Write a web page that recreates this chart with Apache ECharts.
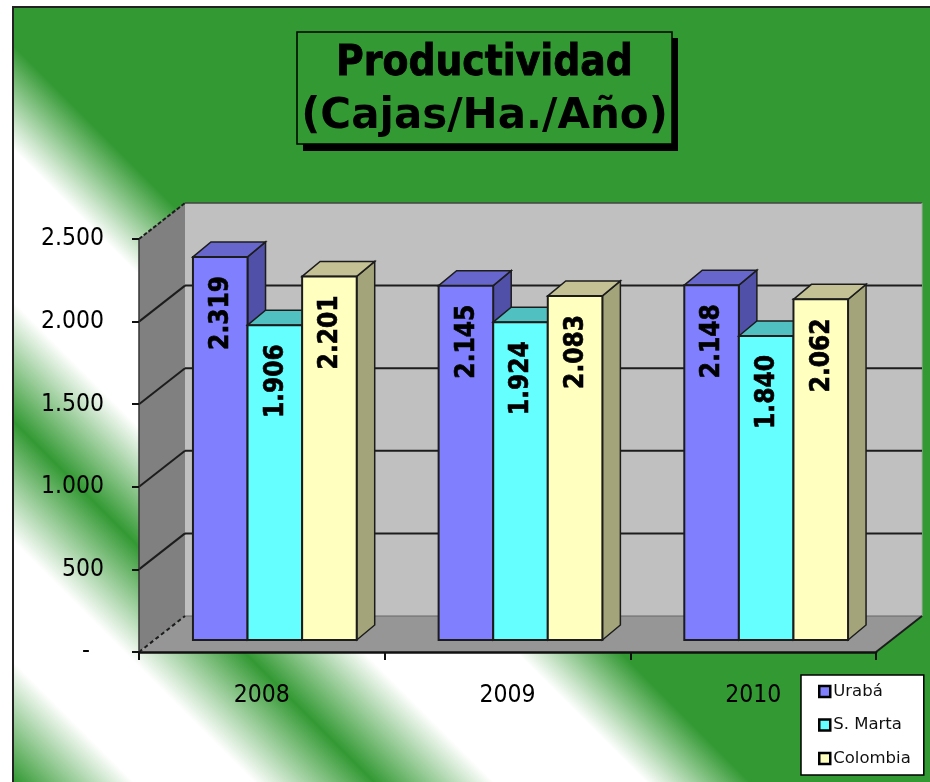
<!DOCTYPE html>
<html><head><meta charset="utf-8">
<style>html,body{margin:0;padding:0;background:#fff}#c{width:930px;height:782px}</style>
<script src="https://cdn.jsdelivr.net/npm/echarts@6/dist/echarts.min.js"></script></head>
<body><div id="c"></div>
<script>
const years = ['2008','2009','2010'];
const uraba = [2319,2145,2148];
const sMarta = [1906,1924,1840];
const colombia = [2201,2083,2062];
const yTicks = [500,1000,1500,2000,2500];
const FONT = '"DejaVu Sans Condensed","DejaVu Sans",sans-serif';
const WALL_DX = 46, WALL_DY = -36, BAR_DX = 13, BAR_DY = -12, TOP_DX = 18, TOP_DY = -15;
const fmt = v => String(v).replace(/\B(?=(\d{3})+$)/g,'.');
const INK = '#1c1c1c';
const GREEN = '#339933';

function poly(points, fill, stroke, lw, dash){
  return {type:'polygon',shape:{points},style:{fill,stroke:stroke||'none',lineWidth:lw||0,lineDash:dash||null}};
}
function line(a,b,stroke,lw,dash){
  return {type:'line',shape:{x1:a[0],y1:a[1],x2:b[0],y2:b[1]},style:{stroke,lineWidth:lw,lineDash:dash||null}};
}
function renderWalls(params, api){
  const c = params.coordSys, L=c.x, R=c.x+c.width;
  const y0 = api.coord([0,0])[1], yT = api.coord([0,2500])[1];
  const dx=WALL_DX, dy=WALL_DY;
  return {type:'group',children:[
    poly([[L+dx,yT+dy],[R+dx,yT+dy],[R+dx,y0+dy],[L+dx,y0+dy]],'#c0c0c0'),
    poly([[L,y0],[L+dx,y0+dy],[L+dx,yT+dy],[L,yT]],'#808080'),
    poly([[L,y0],[R,y0],[R+dx,y0+dy],[L+dx,y0+dy]],'#969696'),
    line([L+dx,yT+dy],[R+dx,yT+dy],'#444',1.5),
    line([R+dx,yT+dy],[R+dx,y0+dy],'#aaa',1),
    line([L+dx,y0+dy],[R+dx,y0+dy],'#666',1),
    line([R,y0],[R+dx,y0+dy],INK,2),
    line([L,yT],[L+dx,yT+dy],INK,2,[4,2]),
    line([L,y0],[L+dx,y0+dy],INK,2,[4,3])
  ]};
}
function renderGrid(params, api){
  const c = params.coordSys, L=c.x, R=c.x+c.width;
  const y = api.coord([0,api.value(1)])[1];
  if (api.value(1) >= 2500) return {type:'group',children:[]};
  return {type:'group',children:[
    line([L,y],[L+WALL_DX,y+WALL_DY],INK,2),
    line([L+WALL_DX,y+WALL_DY],[R+WALL_DX,y+WALL_DY],INK,2)
  ]};
}
function barRenderer(slot, front, top, side){
  return function(params, api){
    const p = api.coord([api.value(0),api.value(1)]);
    const p0 = api.coord([api.value(0),0]);
    const w = api.size([1,0])[0]*0.2222;
    const x0 = p0[0]+BAR_DX+(slot-1.5)*w, x1 = x0+w;
    const yt = p[1]+BAR_DY, yb = p0[1]+BAR_DY;
    const dx=TOP_DX, dy=TOP_DY;
    return {type:'group',children:[
      poly([[x1,yt],[x1+dx,yt+dy],[x1+dx,yb+dy],[x1,yb]],side,INK,1.5),
      poly([[x0,yt],[x0+dx,yt+dy],[x1+dx,yt+dy],[x1,yt]],top,INK,1.5),
      poly([[x0,yt],[x1,yt],[x1,yb],[x0,yb]],front,INK,2),
      {type:'text',x:(x0+x1)/2+1,y:yt+56,rotation:Math.PI/2,z2:5,
       style:{text:fmt(api.value(1)),fill:'#000',font:'bold 26px '+FONT,align:'center',verticalAlign:'middle',stroke:'#000',lineWidth:0.6}}
    ]};
  };
}
const toData = arr => arr.map((v,i)=>[i,v]);
const blue='#8080ff', cyan='#66ffff', yellow='#ffffc0';
const legendBorder={borderColor:'#000',borderWidth:2.5};
const chart = echarts.init(document.getElementById('c'),null,{renderer:'canvas'});
chart.setOption({
  animation:false,
  backgroundColor:'#fff',
  graphic:{elements:[
    {type:'rect',z:-10,shape:{x:13,y:7,width:930,height:790},
     style:{stroke:'#222',lineWidth:2,fill:{type:'linear',global:true,x:400,y:400,x2:0,y2:800,
       colorStops:[{offset:0.04,color:GREEN},{offset:0.17,color:'#ffffff'},{offset:0.36,color:'#ffffff'},
                   {offset:0.51,color:GREEN},{offset:0.66,color:'#ffffff'},{offset:0.81,color:'#ffffff'},{offset:0.96,color:GREEN}]}}},
    {type:'rect',z:-5,shape:{x:303,y:38,width:375,height:113},style:{fill:'#000'}},
    {type:'rect',z:-4,shape:{x:297,y:32,width:375,height:112},style:{fill:GREEN,stroke:'#000',lineWidth:1.5}}
  ]},
  title:{text:'{a|Productividad}\n{b|(Cajas/Ha./Año)}',left:484.5,top:38,padding:0,textAlign:'center',
    textStyle:{align:'center',rich:{
      a:{fontFamily:FONT,fontWeight:'bold',fontSize:42,lineHeight:53,color:'#000',textBorderColor:'#000',textBorderWidth:0.8},
      b:{fontFamily:'"DejaVu Sans",sans-serif',fontWeight:'bold',fontSize:42,lineHeight:53,color:'#000'}}}},
  legend:{orient:'vertical',left:801,top:675,itemWidth:11,itemHeight:11,itemGap:16.5,selectedMode:false,
    padding:[8,13,8,17],backgroundColor:'#fff',borderColor:'#000',borderWidth:1.5,
    textStyle:{fontFamily:'"DejaVu Sans",sans-serif',fontSize:16.5,color:'#111',padding:[0,0,0,-2]},
    data:[{name:'Urabá',icon:'rect',itemStyle:{color:blue,...legendBorder}},
          {name:'S. Marta',icon:'rect',itemStyle:{color:cyan,...legendBorder}},
          {name:'Colombia',icon:'rect',itemStyle:{color:yellow,...legendBorder}}]},
  grid:{left:139,right:54,top:239,bottom:130,containLabel:false},
  xAxis:{type:'category',data:years,z:10,boundaryGap:true,
    axisLine:{lineStyle:{color:'#111',width:2.5}},
    axisTick:{show:true,length:8,alignWithLabel:false,lineStyle:{color:'#111',width:2}},
    axisLabel:{fontFamily:FONT,fontSize:24.5,color:'#000',margin:31}},
  yAxis:{type:'value',min:0,max:2500,interval:500,z:10,splitLine:{show:false},
    axisLine:{show:true,lineStyle:{color:'#333',width:1.5}},
    axisTick:{show:true,length:7,lineStyle:{color:'#111',width:2}},
    axisLabel:{fontFamily:FONT,fontSize:24.5,color:'#000',margin:35,padding:[7,0,0,0],
      formatter:v=>v===0?'-  ':fmt(v)}},
  series:[
    {type:'custom',name:'_walls',z:1,silent:true,renderItem:renderWalls,data:[[0,0]],encode:{x:0,y:1}},
    {type:'custom',name:'_grid',z:1.5,silent:true,renderItem:renderGrid,data:yTicks.map(v=>[0,v]),encode:{x:0,y:1}},
    {type:'custom',name:'Urabá',z:3,renderItem:barRenderer(0,blue,'#6666cc','#5050a8'),itemStyle:{color:blue},data:toData(uraba),encode:{x:0,y:1}},
    {type:'custom',name:'S. Marta',z:4,renderItem:barRenderer(1,cyan,'#50c0c0','#40a0a0'),itemStyle:{color:cyan},data:toData(sMarta),encode:{x:0,y:1}},
    {type:'custom',name:'Colombia',z:5,renderItem:barRenderer(2,yellow,'#c4c194','#a4a47a'),itemStyle:{color:yellow},data:toData(colombia),encode:{x:0,y:1}}
  ]
});
</script></body></html>
